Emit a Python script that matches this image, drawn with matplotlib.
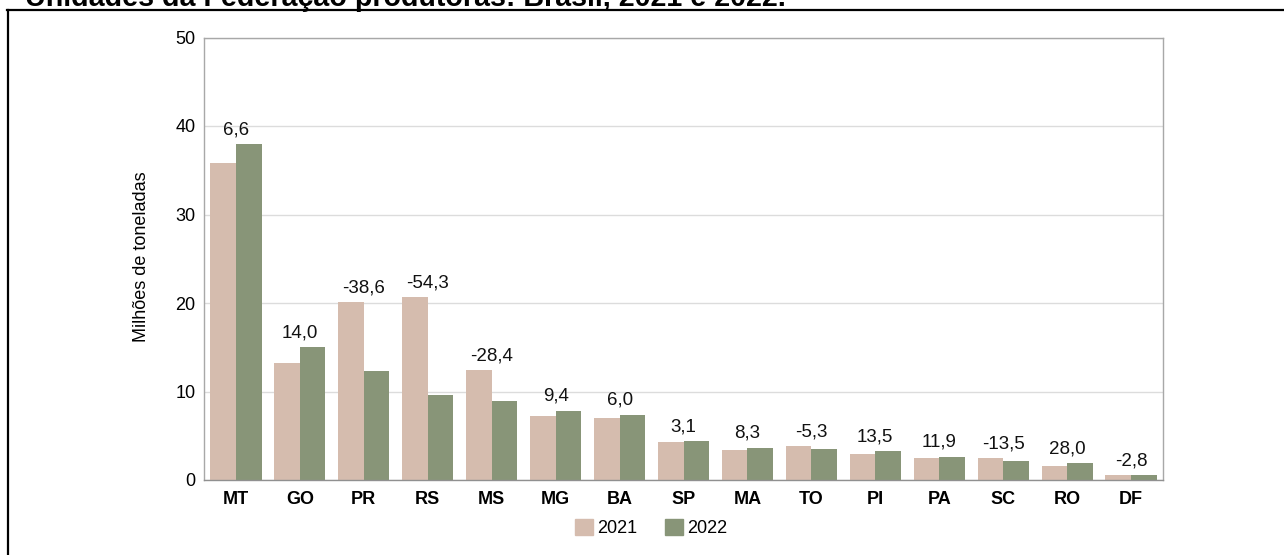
import matplotlib
matplotlib.use("Agg")
import matplotlib.pyplot as plt
from matplotlib.lines import Line2D
from matplotlib.patches import Patch
import numpy as np

plt.rcParams['font.family'] = ['Liberation Sans', 'DejaVu Sans']

# dados (milhões de toneladas)
ufs = ["MT", "GO", "PR", "RS", "MS", "MG", "BA", "SP", "MA", "TO", "PI", "PA", "SC", "RO", "DF"]
v2021 = [35.8, 13.2, 20.1, 20.7, 12.4, 7.2, 7.05, 4.3, 3.4, 3.8, 2.95, 2.45, 2.5, 1.55, 0.58]
v2022 = [38.0, 15.0, 12.35, 9.55, 8.95, 7.85, 7.4, 4.42, 3.67, 3.55, 3.25, 2.65, 2.2, 1.92, 0.56]
variacao = ["6,6", "14,0", "-38,6", "-54,3", "-28,4", "9,4", "6,0", "3,1", "8,3", "-5,3",
            "13,5", "11,9", "-13,5", "28,0", "-2,8"]
anos = ["2021", "2022"]
cores = ["#D5BCAE", "#889578"]

fig = plt.figure(figsize=(12.84, 5.55), dpi=100)
ax = fig.add_axes([204 / 1284, 1 - 480 / 555, 959 / 1284, 442.5 / 555])

x = np.arange(len(ufs))
w = 0.4
ax.bar(x - w / 2, v2021, w, color=cores[0], zorder=2)
ax.bar(x + w / 2, v2022, w, color=cores[1], zorder=2)

for i, txt in enumerate(variacao):
    top = max(v2021[i], v2022[i])
    ax.annotate(txt, (x[i], top), xytext=(0, 4), textcoords="offset points",
                ha="center", va="bottom", fontsize=13.5, color="#111111")

ax.set_xlim(-0.5, len(ufs) - 0.5)
ax.set_ylim(0, 50)
ax.set_yticks([0, 10, 20, 30, 40, 50])
ax.set_xticks(x)
ax.set_xticklabels(ufs, fontweight="bold", fontsize=13)
ax.tick_params(axis="x", length=0, pad=8)
ax.tick_params(axis="y", length=0, pad=6, labelsize=13)
ax.grid(axis="y", color="#DCDCDC", linewidth=1, zorder=0)
for s in ax.spines.values():
    s.set_color("#A8A8A8")
    s.set_linewidth(1)
ax.spines["bottom"].set_color("#909090")

fig.text(141 / 1284, 1 - 257 / 555, "Milhões de toneladas", rotation=90,
         ha="center", va="center", fontsize=13)

handles = [Patch(color=c, label=a) for c, a in zip(cores, anos)]
fig.legend(handles=handles, loc="center", bbox_to_anchor=(651 / 1284, 1 - 528 / 555),
           ncol=2, frameon=False, fontsize=13, handlelength=1.0, handleheight=1.0,
           handletextpad=0.25, columnspacing=1.5, borderpad=0)

# título cortado no topo e moldura
fig.text(25 / 1284, 1 - 6 / 555, "Unidades da Federação produtoras: Brasil, 2021 e 2022.",
         fontsize=20.6, fontweight="bold", ha="left", va="baseline")
fig.add_artist(Line2D([7 / 1284, 1], [1 - 10 / 555, 1 - 10 / 555], color="black",
                      linewidth=1.6, transform=fig.transFigure))
fig.add_artist(Line2D([8 / 1284, 8 / 1284], [0, 1 - 10 / 555], color="black",
                      linewidth=1.6, transform=fig.transFigure))

fig.savefig("out.png", dpi=100)
